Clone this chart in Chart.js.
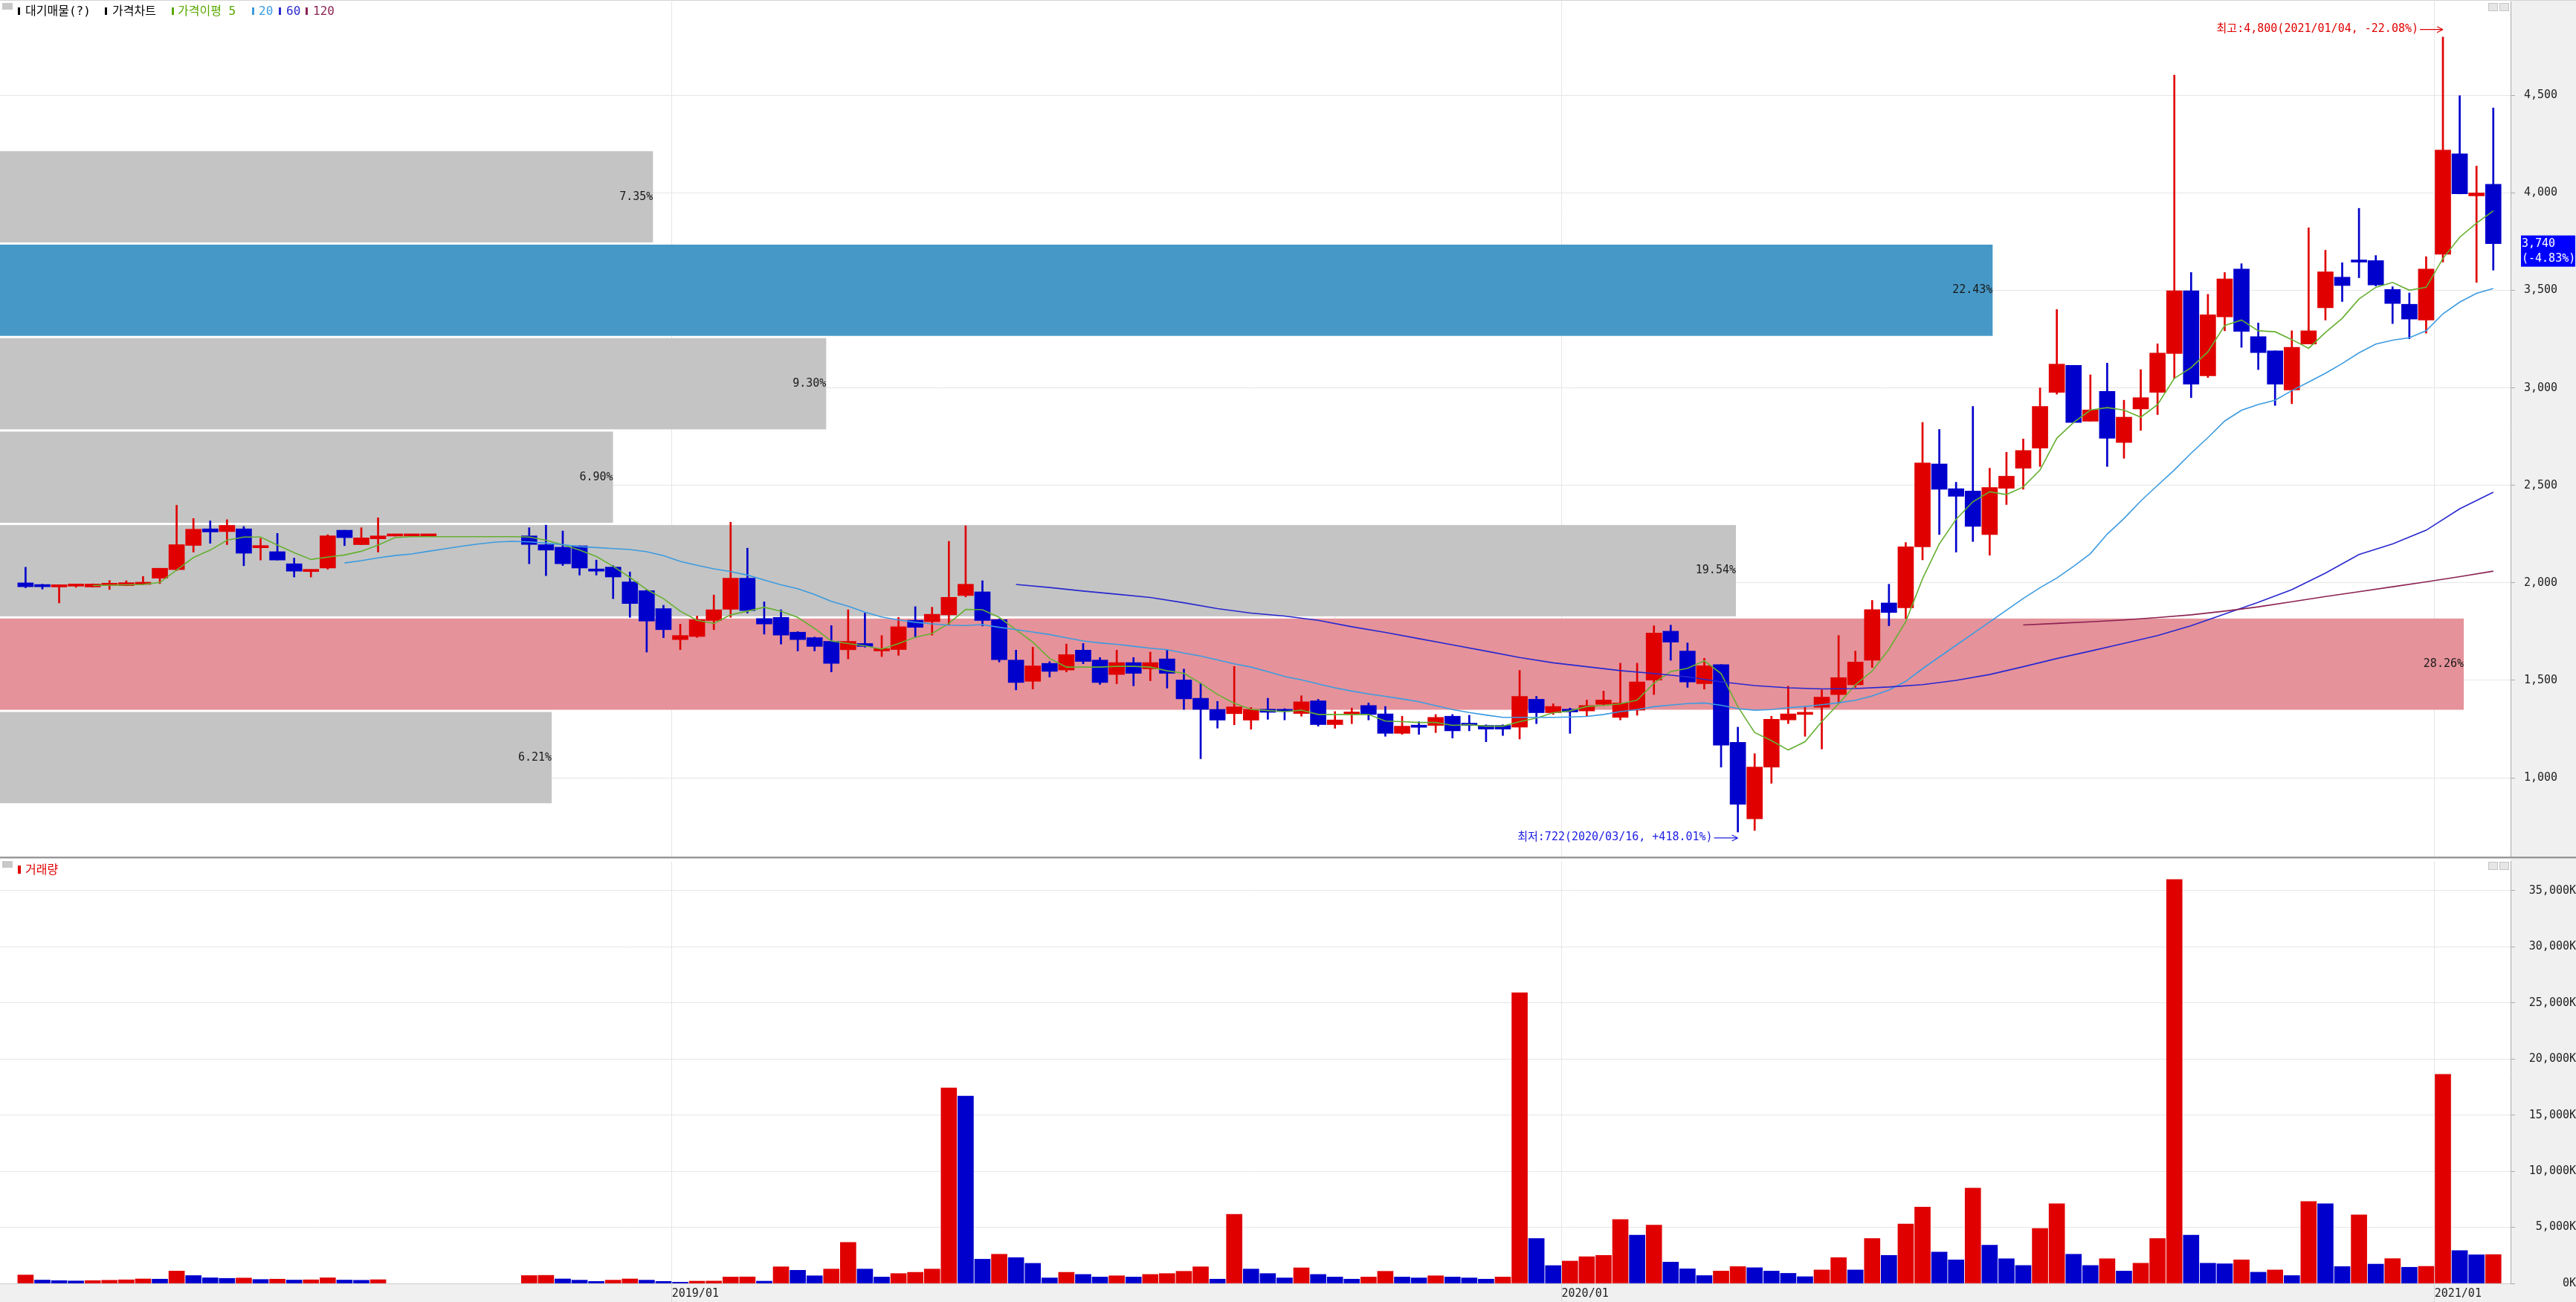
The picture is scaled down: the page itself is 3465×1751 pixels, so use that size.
<!DOCTYPE html>
<html>
<head>
<meta charset="utf-8">
<script src="https://cdn.jsdelivr.net/npm/chart.js@4.4.1/dist/chart.umd.min.js"></script>
<style>
html, body { margin: 0; padding: 0; }
body { width: 3465px; height: 1751px; background: #f0f0f0; position: relative; overflow: hidden;
  font-family: 'DejaVu Sans Mono', 'Noto Sans CJK KR', monospace; }
canvas { position: absolute; left: 0; }
#price { top: 0; }
#volume { top: 1155px; }
.sep { position: absolute; left: 0; width: 3465px; top: 1152px; height: 2px; background: #999; }
.sep2 { position: absolute; left: 0; width: 3465px; top: 1154px; height: 1px; background: #d0d0d0; }
.topline { position: absolute; left: 0; top: 0; width: 3465px; height: 1px; background: #d4d4d4; }
.icon { position: absolute; left: 3px; width: 14px; height: 9px; background: #c8c8c8; }
.mark { position: absolute; width: 3px; height: 10px; }
.lg { position: absolute; font-size: 16px; line-height: 18px; white-space: nowrap; }
.btn { position: absolute; width: 11px; height: 9px; border: 1px solid #c4c4c4; background: #e6e6e6; }
</style>
</head>
<body>
<canvas id="price" width="3465" height="1152"></canvas>
<canvas id="volume" width="3465" height="596"></canvas>
<div class="topline"></div>
<div class="sep"></div>
<div class="sep2"></div>

<div class="icon" style="top:4px"></div>
<div class="mark" style="left:24px;top:10px;background:#000"></div>
<div class="lg" style="left:34px;top:6px;color:#000">대기매물(?)</div>
<div class="mark" style="left:141px;top:10px;background:#000"></div>
<div class="lg" style="left:151px;top:6px;color:#000">가격차트</div>
<div class="mark" style="left:231px;top:10px;background:#5aa800"></div>
<div class="lg" style="left:239px;top:6px;color:#5aa800">가격이평 5</div>
<div class="mark" style="left:339px;top:10px;background:#3c9be0"></div>
<div class="lg" style="left:348px;top:6px;color:#3c9be0">20</div>
<div class="mark" style="left:375px;top:10px;background:#2828d0"></div>
<div class="lg" style="left:385px;top:6px;color:#2828d0">60</div>
<div class="mark" style="left:411px;top:10px;background:#8b2252"></div>
<div class="lg" style="left:421px;top:6px;color:#8b2252">120</div>
<div class="btn" style="left:3347px;top:4px"></div>
<div class="btn" style="left:3362px;top:4px"></div>

<div class="icon" style="top:1158px"></div>
<div class="mark" style="left:24px;top:1164px;height:11px;width:4px;background:#e00000"></div>
<div class="lg" style="left:34px;top:1161px;color:#e00000">거래량</div>
<div class="btn" style="left:3347px;top:1159px"></div>
<div class="btn" style="left:3362px;top:1159px"></div>

<script>
// weekly candles, week 0 = 2018/04/02
const open = [
  2000,1985,1979,1983,1979,1987,1986,1992,2024,2068,
  2192,2277,2263,2277,2180,2160,2098,2058,2076,2270,
  2196,2226,2240,2240,2240,null,null,null,null,null,
  2241,2196,2183,2190,2068,2081,2005,1960,1868,1709,
  1725,1807,1864,2024,1817,1823,1747,1719,1700,1657,
  1689,1651,1658,1808,1801,1836,1935,1954,1811,1604,
  1495,1587,1553,1655,1604,1530,1591,1559,1610,1502,
  1408,1351,1329,1296,1352,1345,1330,1395,1273,1325,
  1371,1328,1228,1262,1269,1316,1278,1269,1269,1260,
  1403,1334,1352,1343,1377,1310,1347,1501,1752,1650,
  1483,1581,1182,790,1055,1297,1325,1362,1427,1477,
  1603,1897,1872,2185,2610,2483,2471,2248,2485,2588,
  2691,2977,3116,2829,2982,2720,2892,2977,3176,3498,
  3062,3364,3610,3263,3190,2990,3225,3411,3568,3650,
  3653,3505,3429,3348,3686,4201,3985,4044
];
const high = [
  2080,1993,1990,1992,1995,2012,2011,2033,2075,2398,
  2330,2318,2324,2289,2228,2254,2127,2068,2247,2270,
  2283,2334,2240,2240,2240,null,null,null,null,null,
  2283,2296,2266,2190,2117,2089,2056,1965,1885,1788,
  1830,1938,2311,2178,1903,1862,1750,1722,1781,1862,
  1845,1730,1823,1878,1875,2213,2293,2011,1815,1655,
  1670,1596,1686,1689,1617,1655,1617,1645,1655,1558,
  1485,1392,1571,1361,1408,1355,1421,1403,1340,1358,
  1384,1366,1316,1288,1325,1325,1321,1272,1272,1551,
  1418,1380,1358,1399,1445,1588,1588,1780,1783,1692,
  1613,1581,1260,1124,1316,1470,1366,1451,1730,1650,
  1910,1993,2207,2823,2787,2516,2905,2588,2670,2738,
  3000,3402,3116,3067,3127,2937,3094,3226,4604,3592,
  3480,3592,3637,3333,3190,3293,3821,3706,3642,3921,
  3679,3519,3487,3673,4800,4499,4138,4436
];
const low = [
  1975,1968,1897,1977,1978,1966,1985,1990,1996,2063,
  2158,2203,2196,2088,2117,2117,2030,2030,2070,2191,
  2196,2158,2240,2240,2240,null,null,null,null,null,
  2098,2037,2089,2040,2040,1919,1823,1645,1719,1658,
  1720,1760,1823,1845,1737,1686,1651,1651,1543,1610,
  1670,1622,1628,1719,1732,1785,1928,1779,1594,1451,
  1456,1517,1543,1585,1479,1483,1472,1498,1460,1351,
  1098,1255,1272,1249,1300,1297,1316,1265,1254,1278,
  1297,1213,1223,1223,1232,1204,1241,1185,1217,1199,
  1278,1325,1228,1316,1372,1297,1321,1427,1603,1464,
  1455,1055,722,730,972,1278,1213,1148,1380,1464,
  1566,1780,1817,2118,2248,2158,2212,2142,2402,2480,
  2597,2968,2823,2829,2597,2639,2782,2863,3049,2950,
  3053,3293,3208,3094,2910,2919,3225,3348,3443,3565,
  3523,3330,3252,3281,3646,3995,3541,3604
];
const close = [
  1980,1980,1988,1988,1994,1994,2001,2001,2075,2196,
  2275,2261,2295,2152,2190,2117,2060,2068,2241,2232,
  2231,2241,2240,2240,2240,null,null,null,null,null,
  2197,2168,2098,2076,2060,2030,1894,1804,1760,1730,
  1811,1862,2024,1858,1789,1732,1709,1674,1587,1700,
  1674,1658,1775,1772,1839,1926,1993,1807,1606,1489,
  1574,1546,1632,1597,1489,1591,1536,1591,1536,1405,
  1351,1296,1364,1351,1336,1340,1390,1273,1297,1338,
  1325,1228,1265,1259,1310,1241,1269,1250,1250,1418,
  1334,1366,1338,1371,1399,1384,1492,1743,1696,1492,
  1575,1167,864,1055,1300,1328,1334,1414,1514,1594,
  1863,1848,2185,2615,2480,2444,2290,2489,2547,2679,
  2905,3122,2823,2887,2742,2850,2950,3179,3498,3019,
  3375,3559,3290,3181,3019,3208,3293,3595,3525,3645,
  3528,3433,3353,3610,4220,3995,4000,3740
];
// volume in thousands of shares
const volume = [
  750,300,250,220,250,280,320,400,380,1100,
  700,500,450,480,350,380,300,320,500,300,
  280,330,null,null,null,null,null,null,null,null,
  700,720,400,290,180,290,400,290,180,110,
  200,210,570,580,200,1480,1170,680,1280,3660,
  1280,570,880,990,1280,17420,16690,2160,2600,2300,
  1790,490,990,800,570,680,570,800,880,1080,
  1480,380,6150,1280,880,490,1390,800,570,380,
  570,1080,570,490,680,570,490,380,570,25900,
  4000,1590,1990,2380,2500,5700,4300,5200,1900,1300,
  700,1100,1500,1400,1100,900,600,1200,2300,1200,
  4000,2500,5300,6800,2800,2100,8500,3400,2200,1600,
  4900,7100,2600,1600,2200,1100,1800,4000,36000,4300,
  1800,1750,2100,1000,1200,700,7300,7100,1500,6100,
  1720,2210,1440,1520,18630,2935,2550,2570
];
const ma5 = [
  null,null,null,null,1986,1988,1990,1992,2002,2066,
  2130,2168,2219,2235,2235,2194,2155,2120,2132,2143,
  2162,2194,2232,2237,2237,2237,2237,2237,2237,2237,
  2235,2219,2196,2168,2136,2085,2028,1966,1919,1855,
  1808,1792,1836,1855,1875,1855,1823,1766,1702,1689,
  1677,1660,1689,1721,1740,1792,1864,1862,1823,1760,
  1696,1613,1568,1568,1568,1572,1572,1568,1549,1536,
  1485,1428,1383,1351,1345,1340,1347,1325,1325,1325,
  1325,1291,1288,1284,1284,1269,1273,1265,1265,1288,
  1306,1334,1343,1366,1371,1380,1399,1485,1545,1562,
  1600,1535,1365,1232,1191,1143,1185,1288,1380,1477,
  1548,1659,1801,2021,2200,2326,2416,2467,2453,2492,
  2579,2742,2823,2886,2899,2886,2850,2914,3049,3104,
  3185,3320,3348,3293,3288,3248,3203,3284,3357,3456,
  3516,3541,3501,3516,3664,3773,3845,3908
];
const ma20 = [
  null,null,null,null,null,null,null,null,null,null,
  null,null,null,null,null,null,null,null,null,2102,
  2114,2128,2140,2148,2162,2175,2188,2200,2209,2213,
  2210,2204,2196,2186,2181,2176,2171,2160,2140,2110,
  2090,2072,2058,2040,2015,1990,1970,1940,1905,1880,
  1850,1825,1810,1798,1790,1783,1781,1786,1772,1760,
  1748,1735,1718,1702,1692,1685,1675,1665,1657,1640,
  1625,1605,1585,1568,1545,1520,1503,1482,1462,1445,
  1430,1418,1405,1390,1370,1350,1335,1322,1310,1310,
  1310,1310,1312,1315,1325,1340,1350,1365,1373,1381,
  1384,1372,1355,1347,1350,1360,1366,1375,1385,1398,
  1420,1450,1495,1560,1620,1680,1740,1800,1860,1920,
  1975,2025,2085,2150,2250,2330,2420,2500,2579,2665,
  2745,2830,2885,2915,2937,2986,3030,3075,3125,3180,
  3225,3245,3257,3293,3380,3440,3485,3510
];
// [week, value] read every other week
const ma60 = [
  [59,1992],[61,1976],[63,1958],[65,1942],[67,1925],[69,1898],[71,1868],[73,1845],
  [75,1830],[77,1808],[79,1775],[81,1746],[83,1714],[85,1682],[87,1650],[89,1617],
  [91,1590],[93,1570],[95,1550],[97,1535],[99,1518],[101,1492],[103,1473],[105,1462],
  [107,1456],[109,1458],[111,1466],[113,1478],[115,1500],[117,1530],[119,1570],[121,1612],
  [123,1650],[125,1690],[127,1730],[129,1780],[131,1840],[133,1900],[135,1965],[137,2050],
  [139,2145],[141,2200],[143,2270],[145,2380],[147,2465]
];
const ma120 = [
  [119,1784],[121,1792],[123,1800],[125,1810],[127,1822],[129,1836],[131,1855],[133,1877],
  [135,1903],[137,1930],[139,1955],[141,1980],[143,2005],[145,2032],[147,2060]
];
// 대기매물 share per price band, lowest band first
const profilePct = [6.21, 28.26, 19.54, 6.90, 9.30, 22.43, 7.35];
const priceTicks = [1000, 1500, 2000, 2500, 3000, 3500, 4000, 4500];
const volumeTicks = [0, 5000, 10000, 15000, 20000, 25000, 30000, 35000];
const yearTicks = [38.5, 91.5, 143.5];
const yearLabels = ['2019/01', '2020/01', '2021/01'];
const lastChange = -4.83;
const firstWeek = Date.UTC(2018, 3, 2);

const RED = '#e00000', BLUE = '#0000cc';
const FONT = "'DejaVu Sans Mono', 'Noto Sans CJK KR', monospace";
const fmt = v => v.toLocaleString('en-US');

function weekDate(i) {
  const d = new Date(firstWeek + i * 7 * 86400000);
  const p = n => String(n).padStart(2, '0');
  return d.getUTCFullYear() + '/' + p(d.getUTCMonth() + 1) + '/' + p(d.getUTCDate());
}

// no label overhang padding: the plot runs edge to edge
function noPad(a) {
  a.paddingTop = 0; a.paddingBottom = 0; a.paddingLeft = 0; a.paddingRight = 0;
}

const weeks = close.map((c, i) => i).filter(i => close[i] !== null);
const candleColor = weeks.map(i => close[i] >= open[i] ? RED : BLUE);
const lastClose = close[close.length - 1];

Chart.defaults.font.family = FONT;
Chart.defaults.font.size = 15;
Chart.defaults.color = '#222';

const xRange = { min: -1.523, max: 148.03 };

const whiteArea = {
  id: 'whiteArea',
  beforeDraw(chart) {
    const { ctx, chartArea } = chart;
    ctx.save();
    ctx.fillStyle = '#fff';
    ctx.fillRect(0, 0, chartArea.right, chartArea.bottom);
    ctx.restore();
  }
};

const profile = {
  id: 'profile',
  beforeDatasetsDraw(chart) {
    const { ctx, chartArea } = chart;
    const y = chart.scales.y, xp = chart.scales.xp;
    const cs = weeks.map(i => close[i]);
    const lo = Math.min(...cs), hi = Math.max(...cs);
    const step = (hi - lo) / profilePct.length;
    const maxPct = Math.max(...profilePct);
    ctx.save();
    profilePct.forEach((p, k) => {
      const top = y.getPixelForValue(lo + step * (k + 1)) + 1.5;
      const bot = y.getPixelForValue(lo + step * k) - 1.5;
      // the widest band stops short of the price axis
      const right = Math.min(xp.getPixelForValue(p), chartArea.right - 63);
      let color = '#c4c4c4';
      if (p === maxPct) color = '#e5929a';
      else if (lastClose >= lo + step * k && lastClose <= lo + step * (k + 1)) color = '#4698c6';
      ctx.fillStyle = color;
      ctx.fillRect(chartArea.left, top, right - chartArea.left, bot - top);
      ctx.fillStyle = '#1a1a1a';
      ctx.font = '15px ' + FONT;
      ctx.textAlign = 'right';
      ctx.textBaseline = 'middle';
      ctx.fillText(p.toFixed(2) + '%', right, (top + bot) / 2);
    });
    ctx.restore();
  }
};

function arrow(ctx, x0, x1, y, color) {
  ctx.strokeStyle = color;
  ctx.lineWidth = 1.2;
  ctx.beginPath();
  ctx.moveTo(x0, y);
  ctx.lineTo(x1 - 1, y);
  ctx.moveTo(x1, y);
  ctx.lineTo(x1 - 8, y - 4);
  ctx.moveTo(x1, y);
  ctx.lineTo(x1 - 8, y + 4);
  ctx.stroke();
}

const marks = {
  id: 'marks',
  afterDatasetsDraw(chart) {
    const { ctx } = chart;
    const x = chart.scales.x, y = chart.scales.y;
    let hiIdx = weeks[0], loIdx = weeks[0];
    weeks.forEach(i => {
      if (high[i] > high[hiIdx]) hiIdx = i;
      if (low[i] < low[loIdx]) loIdx = i;
    });
    const pct = ref => {
      const r = (lastClose / ref - 1) * 100;
      return (r >= 0 ? '+' : '') + r.toFixed(2) + '%';
    };
    ctx.save();
    ctx.font = '15px ' + FONT;
    ctx.textAlign = 'right';
    ctx.textBaseline = 'middle';

    const hx = x.getPixelForValue(hiIdx), hy = y.getPixelForValue(high[hiIdx]) - 11;
    ctx.fillStyle = '#e00000';
    ctx.fillText('최고:' + fmt(high[hiIdx]) + '(' + weekDate(hiIdx) + ', ' + pct(high[hiIdx]) + ')', hx - 33, hy);
    arrow(ctx, hx - 31, hx, hy + 1, '#e00000');

    const lx = x.getPixelForValue(loIdx), ly = y.getPixelForValue(low[loIdx]) + 7;
    ctx.fillStyle = '#2020e0';
    ctx.fillText('최저:' + fmt(low[loIdx]) + '(' + weekDate(loIdx) + ', ' + pct(low[loIdx]) + ')', lx - 34, ly);
    arrow(ctx, lx - 32, lx, ly + 1, '#2020e0');
    ctx.restore();
  },
  afterDraw(chart) {
    const { ctx, chartArea } = chart;
    const yy = chart.scales.y.getPixelForValue(lastClose);
    const bx = chartArea.right + 14, by = yy - 11;
    ctx.save();
    ctx.fillStyle = '#0000ff';
    ctx.fillRect(bx, by, 73, 42);
    ctx.fillStyle = '#fff';
    ctx.font = '15px ' + FONT;
    ctx.textAlign = 'left';
    ctx.textBaseline = 'middle';
    ctx.fillText(fmt(lastClose), bx + 1, by + 11);
    ctx.fillText('(' + lastChange.toFixed(2) + '%)', bx + 1, by + 31);
    ctx.restore();
  }
};

const line = (pts, color) => ({
  type: 'line', data: pts, borderColor: color, borderWidth: 1.6,
  pointRadius: 0, tension: 0, spanGaps: true, order: 0
});

new Chart(document.getElementById('price'), {
  data: {
    datasets: [
      {
        type: 'bar', order: 2, grouped: false, barThickness: 2,
        data: weeks.map(i => ({ x: i, y: [low[i], high[i]] })),
        backgroundColor: candleColor
      },
      {
        type: 'bar', order: 1, grouped: false, barThickness: 21, minBarLength: 3,
        data: weeks.map(i => ({ x: i, y: [open[i], close[i]] })),
        backgroundColor: candleColor
      },
      line(ma120.map(p => ({ x: p[0], y: p[1] })), '#8b2252'),
      line(ma60.map(p => ({ x: p[0], y: p[1] })), '#2828d0'),
      line(ma20.map((v, i) => ({ x: i, y: v })).filter(p => p.y !== null), '#3c9be0'),
      line(ma5.map((v, i) => ({ x: i, y: v })).filter(p => p.y !== null), '#66b032')
    ]
  },
  options: {
    responsive: false, animation: false, devicePixelRatio: 1, events: [],
    layout: { autoPadding: false, padding: { top: 2, left: 0, right: 0, bottom: 0 } },
    plugins: { legend: { display: false }, tooltip: { enabled: false } },
    scales: {
      x: {
        type: 'linear', min: xRange.min, max: xRange.max, offset: false,
        afterBuildTicks: a => { a.ticks = yearTicks.map(v => ({ value: v })); },
        afterFit: a => { a.height = 0; noPad(a); },
        ticks: { display: false },
        grid: { color: '#e6e6e6', drawTicks: false, offset: false },
        border: { display: false }
      },
      xp: { type: 'linear', position: 'top', display: false, min: 0, max: Math.max(...profilePct), offset: false },
      y: {
        type: 'linear', position: 'right', min: 596, max: 4982,
        afterBuildTicks: a => { a.ticks = priceTicks.map(v => ({ value: v })); },
        afterFit: a => { a.width = 88; noPad(a); },
        ticks: { callback: v => fmt(v), padding: 12, crossAlign: 'near', color: '#222' },
        grid: { color: '#e6e6e6', tickColor: '#aaa', tickLength: 6 },
        border: { color: '#aaa' }
      }
    }
  },
  plugins: [whiteArea, profile, marks]
});

const volWeeks = volume.map((v, i) => i).filter(i => volume[i] !== null);
const volColor = volWeeks.map(i => (i === 0 || volume[i - 1] === null || volume[i] > volume[i - 1]) ? RED : BLUE);

new Chart(document.getElementById('volume'), {
  type: 'bar',
  data: {
    datasets: [{
      grouped: false, barThickness: 21,
      data: volWeeks.map(i => ({ x: i, y: volume[i] })),
      backgroundColor: volColor
    }]
  },
  options: {
    responsive: false, animation: false, devicePixelRatio: 1, events: [],
    layout: { autoPadding: false, padding: { top: 3, left: 0, right: 0, bottom: 0 } },
    plugins: { legend: { display: false }, tooltip: { enabled: false } },
    scales: {
      x: {
        type: 'linear', min: xRange.min, max: xRange.max, offset: false,
        afterBuildTicks: a => { a.ticks = yearTicks.map(v => ({ value: v })); },
        afterFit: a => { a.height = 25; noPad(a); },
        ticks: { callback: (v, k) => yearLabels[k], align: 'start', padding: -20, maxRotation: 0, autoSkip: false, color: '#222' },
        grid: { color: '#e6e6e6', tickColor: '#d6d6d6', tickLength: 25, offset: false },
        border: { color: '#ccc' }
      },
      y: {
        type: 'linear', position: 'right', min: 0, max: 37640,
        afterBuildTicks: a => { a.ticks = volumeTicks.map(v => ({ value: v })); },
        afterFit: a => { a.width = 88; noPad(a); },
        ticks: { callback: v => fmt(v) + 'K', padding: 11, crossAlign: 'far', color: '#222' },
        grid: { color: '#e6e6e6', tickColor: '#aaa', tickLength: 6 },
        border: { color: '#aaa' }
      }
    }
  },
  plugins: [whiteArea]
});
</script>
</body>
</html>
